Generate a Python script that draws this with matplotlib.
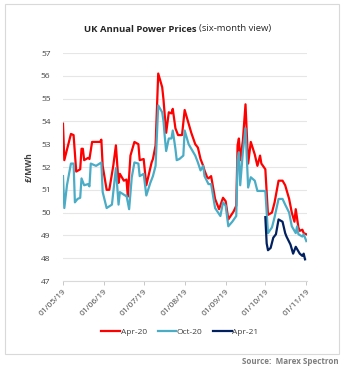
import matplotlib
matplotlib.use("Agg")
import matplotlib.pyplot as plt
import matplotlib.dates as mdates
import pandas as pd
from matplotlib.patches import Rectangle

start = pd.Timestamp("2019-05-01")

# days since 01/05/19 and prices (GBP/MWh)
apr20_days = [0, 1, 6, 8, 10, 13, 14, 15, 16, 19, 20, 22, 28, 29, 30, 33, 35, 38, 40, 42,
              43, 46, 48, 49, 51, 54, 57, 58, 61, 63, 67, 68, 70, 72, 75, 76, 78, 80, 82, 83,
              85, 87, 90, 92, 95, 97, 100, 102, 104, 106, 107, 109, 110, 112, 115, 118, 121,
              123, 125, 129, 131, 132, 133, 134, 136, 138, 140, 142, 145, 147, 149, 150, 153,
              155, 158, 160, 163, 166, 168, 171, 173, 175, 176, 178, 179, 181, 182, 184]
apr20 = [53.9, 52.3, 53.45, 53.4, 51.8, 51.9, 52.8, 52.8, 52.3, 52.4, 52.35, 53.1, 53.1, 53.2,
         52.05, 51.0, 51.0, 52.05, 52.95, 51.3, 51.7, 51.4, 51.45, 50.7, 52.5, 53.1, 53.0, 52.3,
         52.35, 51.2, 52.2, 52.35, 52.95, 56.1, 55.5, 54.95, 53.5, 54.4, 54.35, 54.55, 53.7,
         53.4, 53.4, 54.5, 53.9, 53.5, 53.0, 52.85, 52.35, 52.05, 51.85, 51.55, 51.5, 51.6,
         50.6, 50.15, 50.65, 50.5, 49.7, 50.05, 50.3, 52.95, 53.25, 52.3, 53.15, 54.75, 52.15,
         53.1, 52.55, 52.05, 52.5, 52.15, 51.9, 49.9, 50.0, 50.45, 51.4, 51.4, 51.2, 50.6, 50.0,
         49.6, 50.15, 49.35, 49.2, 49.25, 49.1, 49.05]

oct20_days = [0, 1, 3, 6, 8, 9, 11, 13, 14, 16, 19, 20, 21, 25, 29, 30, 33, 37, 40, 42, 43, 47,
              48, 50, 52, 54, 57, 58, 61, 63, 66, 68, 70, 72, 75, 76, 77, 78, 80, 82, 83, 85, 86,
              88, 91, 92, 95, 97, 100, 102, 104, 106, 107, 110, 112, 115, 119, 121, 123, 125, 128,
              131, 132, 133, 134, 136, 138, 140, 142, 145, 147, 152, 153, 155, 158, 160, 163, 166,
              168, 171, 173, 176, 177, 178, 181, 182, 184]
oct20 = [51.6, 50.2, 51.2, 52.15, 52.15, 50.45, 50.6, 50.65, 51.5, 51.2, 51.25, 51.15, 52.15,
         52.05, 52.2, 50.9, 50.2, 50.35, 51.95, 50.35, 50.9, 50.75, 50.75, 50.15, 51.55, 52.2,
         52.15, 51.6, 51.7, 50.75, 51.3, 51.6, 52.05, 54.7, 54.4, 54.0, 53.3, 52.7, 53.25, 53.25,
         53.6, 52.8, 52.3, 52.35, 52.5, 53.6, 53.0, 52.8, 52.5, 52.2, 51.85, 52.05, 51.6, 51.25,
         51.25, 50.2, 49.85, 50.45, 50.3, 49.4, 49.6, 49.85, 52.3, 52.65, 51.2, 52.65, 53.7, 51.1,
         51.55, 51.4, 50.95, 50.95, 50.95, 49.1, 49.35, 49.8, 50.6, 50.6, 50.35, 50.0, 49.4, 49.1,
         49.4, 49.05, 48.95, 49.05, 48.75]

apr21_days = [153, 154, 155, 157, 159, 161, 163, 166, 168, 169, 172, 174, 176, 177, 179, 181,
              182, 183]
apr21 = [49.8, 48.65, 48.35, 48.45, 48.9, 49.05, 49.7, 49.6, 49.1, 48.95, 48.6, 48.2, 48.5,
         48.4, 48.2, 48.1, 48.2, 47.95]

series = [("Apr-20", apr20_days, apr20, "#ff0000"),
          ("Oct-20", oct20_days, oct20, "#4bacc6"),
          ("Apr-21", apr21_days, apr21, "#002060")]

month_ticks = pd.date_range("2019-05-01", "2019-11-01", freq="MS")

plt.rcParams["font.family"] = ["Open Sans", "DejaVu Sans"]

fig = plt.figure(figsize=(3.5, 3.71), dpi=100)
fig.patches.append(Rectangle((5 / 350, 1 - 354 / 371), 334 / 350, 350 / 371,
                             transform=fig.transFigure, fill=False,
                             edgecolor="#d9d9d9", linewidth=0.8))

ax = fig.add_axes([63 / 350, 1 - 281 / 371, 244 / 350, 228 / 371])
for name, days, vals, color in series:
    dates = start + pd.to_timedelta(days, unit="D")
    ax.plot(dates, vals, color=color, linewidth=1.6, label=name)

ax.set_ylim(47, 57)
ax.set_yticks(range(47, 58))
ax.set_xlim(start, pd.Timestamp("2019-11-01") + pd.Timedelta(days=0.5))
ax.set_xticks(month_ticks)
ax.xaxis.set_major_formatter(mdates.DateFormatter("%d/%m/%y"))
plt.setp(ax.get_xticklabels(), rotation=45, ha="right", rotation_mode="anchor")
ax.tick_params(axis="x", labelsize=6, colors="#404040", length=3, width=0.6,
               color="#bfbfbf", pad=2)
ax.tick_params(axis="y", labelsize=6, colors="#404040", length=0, pad=9)
ax.grid(axis="y", color="#e6e6e6", linewidth=0.8)
ax.set_axisbelow(True)
for s in ["top", "right", "left"]:
    ax.spines[s].set_visible(False)
ax.spines["bottom"].set_color("#d9d9d9")
ax.spines["bottom"].set_linewidth(0.8)

ax.set_ylabel("£/MWh", fontsize=6, fontweight="bold", color="#404040", labelpad=5)

# title: bold part + regular part, centred together
title_y = 1 - 29 / 371
t1 = fig.text(0, title_y, "UK Annual Power Prices ", fontsize=6.8, fontweight="bold",
              color="#262626", ha="left", va="center")
t2 = fig.text(0, title_y, "(six-month view)", fontsize=6.8, color="#262626",
              ha="left", va="center")
renderer = fig.canvas.get_renderer()
w1 = t1.get_window_extent(renderer).width / fig.bbox.width
w2 = t2.get_window_extent(renderer).width / fig.bbox.width
x0 = 178 / 350 - (w1 + w2) / 2
t1.set_x(x0)
t2.set_x(x0 + w1)

ax.legend(loc="center", bbox_to_anchor=(180 / 350, 1 - 332 / 371),
          bbox_transform=fig.transFigure, ncol=3, frameon=False, fontsize=6,
          handlelength=2.2, handletextpad=0.1, columnspacing=1.3, labelcolor="#404040")

fig.text(339 / 350, 1 - 362 / 371, "Source:  Marex Spectron", fontsize=5.8,
         fontweight="bold", color="#7f7f7f", ha="right", va="center")

fig.savefig("out.png", dpi=100)
